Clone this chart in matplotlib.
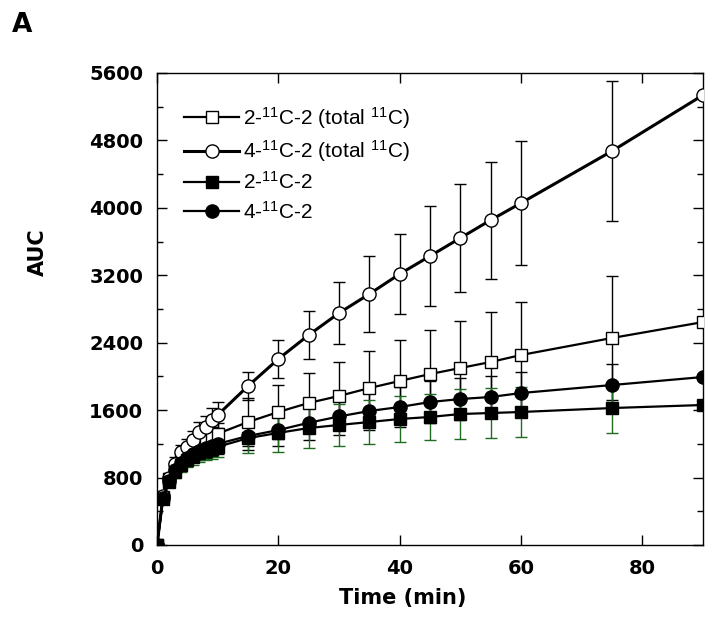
import matplotlib
matplotlib.use("Agg")
import matplotlib.pyplot as plt
from matplotlib.ticker import MultipleLocator

plt.rcParams['mathtext.fontset'] = 'custom'
plt.rcParams['mathtext.rm'] = 'Liberation Sans'
plt.rcParams['mathtext.it'] = 'Liberation Sans:italic'
plt.rcParams['mathtext.bf'] = 'Liberation Sans:bold'

time = [0, 1, 2, 3, 4, 5, 6, 7, 8, 9, 10, 15, 20, 25, 30, 35, 40, 45, 50, 55, 60, 75, 90]

total_2 = [0, 570, 780, 920, 1010, 1080, 1140, 1190, 1240, 1280, 1320, 1459, 1578, 1685,
           1768, 1862, 1946, 2028, 2100, 2171, 2254, 2456, 2645]
total_2_err = [0, 30, 50, 60, 70, 80, 90, 100, 110, 120, 130, 285, 320, 355,
               400, 440, 486, 522, 557, 593, 629, 735, 0]

total_4 = [0, 580, 800, 960, 1100, 1163, 1245, 1340, 1400, 1483, 1542, 1886, 2207, 2491,
           2752, 2978, 3215, 3428, 3642, 3855, 4057, 4674, 5338]
total_4_err = [0, 40, 60, 80, 90, 100, 110, 120, 130, 140, 150, 170, 220, 290,
               370, 445, 475, 590, 640, 695, 735, 835, 0]

par_2 = [0, 550, 750, 870, 950, 1010, 1050, 1090, 1120, 1140, 1165, 1268, 1330, 1388,
         1424, 1459, 1495, 1519, 1554, 1566, 1578, 1625, 1661]
par_2_err = [0, 40, 60, 70, 80, 90, 100, 110, 115, 120, 125, 180, 226, 237,
             250, 261, 273, 273, 296, 297, 297, 296, 0]

par_4 = [0, 560, 760, 890, 970, 1030, 1080, 1120, 1150, 1175, 1200, 1293, 1364, 1450,
         1525, 1590, 1637, 1696, 1732, 1756, 1803, 1898, 1993]
par_4_err = [0, 40, 60, 70, 80, 90, 100, 110, 115, 120, 125, 170, 190, 210,
             220, 230, 240, 250, 250, 250, 250, 250, 0]

labels = [r'2-$^{11}$C-2 (total $^{11}$C)', r'4-$^{11}$C-2 (total $^{11}$C)',
          r'2-$^{11}$C-2', r'4-$^{11}$C-2']

fig = plt.figure(figsize=(7.16, 6.35), dpi=100)
ax = fig.add_axes([157/716, 1-545/635, 546/716, 472/635])

green = '#1f6b1f'
ecfg = dict(fmt='none', elinewidth=1.0, capsize=4.5, capthick=1.0, zorder=2)
ax.errorbar(time, total_4, yerr=total_4_err, ecolor='black', **ecfg)
ax.errorbar(time, total_2, yerr=total_2_err, ecolor='black', **ecfg)
ax.errorbar(time, par_4, yerr=par_4_err, ecolor='black', **ecfg)
ax.errorbar(time, par_2, yerr=par_2_err, ecolor=green, **ecfg)

h1, = ax.plot(time, total_2, '-s', color='black', lw=1.6, ms=9, mfc='white', mec='black', mew=1.0, zorder=3)
h2, = ax.plot(time, total_4, '-o', color='black', lw=2.2, ms=9.5, mfc='white', mec='black', mew=1.0, zorder=3)
h3, = ax.plot(time, par_2, '-s', color='black', lw=1.6, ms=9, mfc='black', mec='black', zorder=4)
h4, = ax.plot(time, par_4, '-o', color='black', lw=1.6, ms=9.5, mfc='black', mec='black', zorder=4)

ax.set_xlim(0, 90)
ax.set_ylim(0, 5600)
ax.xaxis.set_major_locator(MultipleLocator(20))
ax.yaxis.set_major_locator(MultipleLocator(800))
ax.yaxis.set_minor_locator(MultipleLocator(400))
ax.tick_params(which='both', direction='in', top=True, right=True, width=1.0)
ax.tick_params(which='major', length=7)
ax.tick_params(which='minor', length=4.5)
ax.tick_params(axis='y', pad=10)
ax.tick_params(axis='x', pad=10)
for lab in ax.get_xticklabels() + ax.get_yticklabels():
    lab.set_fontfamily('DejaVu Sans')
    lab.set_fontweight('bold')
    lab.set_fontsize(14)
for s in ax.spines.values():
    s.set_linewidth(1.0)
    s.set_color('black')

ax.set_xlabel('Time (min)', fontfamily='DejaVu Sans', fontweight='bold', fontsize=15)
ax.xaxis.set_label_coords((403-157)/546, -0.092)
ax.set_ylabel('AUC', fontfamily='DejaVu Sans', fontweight='bold', fontsize=15)
ax.yaxis.set_label_coords(-0.2, 0.62)

leg = ax.legend([h1, h2, h3, h4], labels, loc='upper left', frameon=False,
                prop={'family': 'Liberation Sans', 'size': 15},
                bbox_to_anchor=(0.035, 0.95), handlelength=2.6, handletextpad=0.2,
                labelspacing=0.35, borderaxespad=0.0)

fig.text(12/716, 1-32/635, 'A', fontfamily='DejaVu Sans', fontweight='bold', fontsize=19)

fig.savefig('out.png', dpi=100)
